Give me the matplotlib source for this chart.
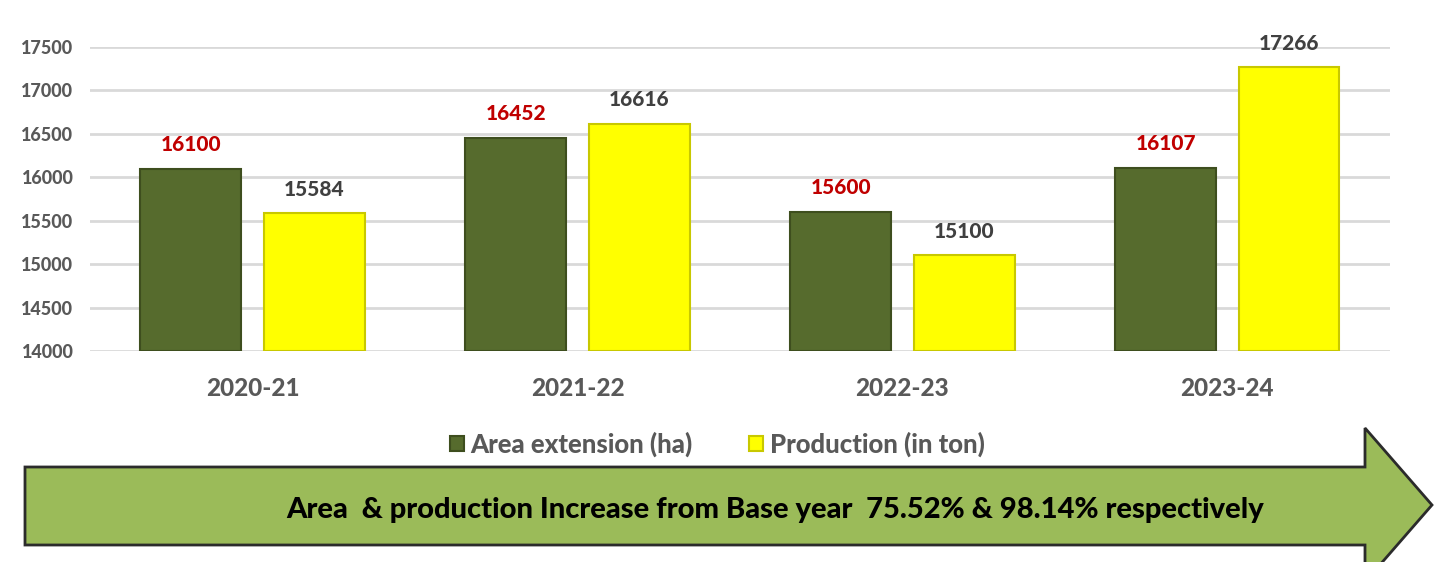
import numpy as np
import matplotlib.pyplot as plt
from matplotlib.patches import Polygon

years = ["2020-21", "2021-22", "2022-23", "2023-24"]
area_ha = [16100, 16452, 15600, 16107]
production_ton = [15584, 16616, 15100, 17266]
yticks = [14000, 14500, 15000, 15500, 16000, 16500, 17000, 17500]
banner_text = "Area  & production Increase from Base year  75.52% & 98.14% respectively"

plt.rcParams['font.family'] = ['Lato', 'DejaVu Sans']
BOLD = "black"

fig = plt.figure(figsize=(14.34, 5.62), dpi=100)
ax = fig.add_axes([0.0628, 0.3754, 0.9064, 0.541])

x = np.arange(len(years))
w = 0.31
off = 0.19
green = "#566B2D"
yellow = "#FFFF00"

b1 = ax.bar(x - off, np.array(area_ha) - 14000, w, bottom=14000, color=green,
            edgecolor="#3E4E1E", linewidth=1.5, label="Area extension (ha)", zorder=3)
b2 = ax.bar(x + off, np.array(production_ton) - 14000, w, bottom=14000, color=yellow,
            edgecolor="#C8C800", linewidth=1.5, label="Production (in ton)", zorder=3)

for xi, v in zip(x - off, area_ha):
    ax.text(xi, v + 170, str(v), ha="center", va="bottom", color="#C00000",
            fontsize=15, fontweight=BOLD)
for xi, v in zip(x + off, production_ton):
    ax.text(xi, v + 170, str(v), ha="center", va="bottom", color="#404040",
            fontsize=15, fontweight=BOLD)

ax.set_xlim(-0.5, 3.5)
ax.set_ylim(14000, 17500)
ax.set_yticks(yticks)
ax.set_yticklabels([str(t) for t in yticks], fontsize=13, fontweight=BOLD, color="#595959")
ax.set_xticks(x)
ax.set_xticklabels(years, fontsize=17.5, fontweight=BOLD, color="#595959")
ax.tick_params(length=0)
ax.tick_params(axis="x", pad=19)
ax.tick_params(axis="y", pad=12)
ax.grid(axis="y", color="#D9D9D9", linewidth=2, zorder=0)
ax.set_axisbelow(True)
for s in ax.spines.values():
    s.set_visible(False)

leg = fig.legend(handles=[b1, b2], loc="center", bbox_to_anchor=(0.5, 0.21), ncol=2,
                 frameon=False, fontsize=18.5, handlelength=0.55, handleheight=0.55,
                 columnspacing=2.2, handletextpad=0.25)
for t in leg.get_texts():
    t.set_color("#595959")
    t.set_fontweight(BOLD)

# arrow banner (figure coords)
W, H = 1434, 562
pts = [(25, 467), (1365, 467), (1365, 428), (1432, 505), (1365, 582),
       (1365, 545), (25, 545)]
poly = Polygon([(px / W, 1 - py / H) for px, py in pts], closed=True,
               transform=fig.transFigure, facecolor="#9BBB59", edgecolor="#2B2B2B",
               linewidth=2, clip_on=False)
fig.patches.append(poly)
fig.text(775 / W, 1 - 510 / H, banner_text, ha="center", va="center",
         fontsize=21, fontweight=BOLD, color="black")

fig.savefig("out.png", dpi=100)
